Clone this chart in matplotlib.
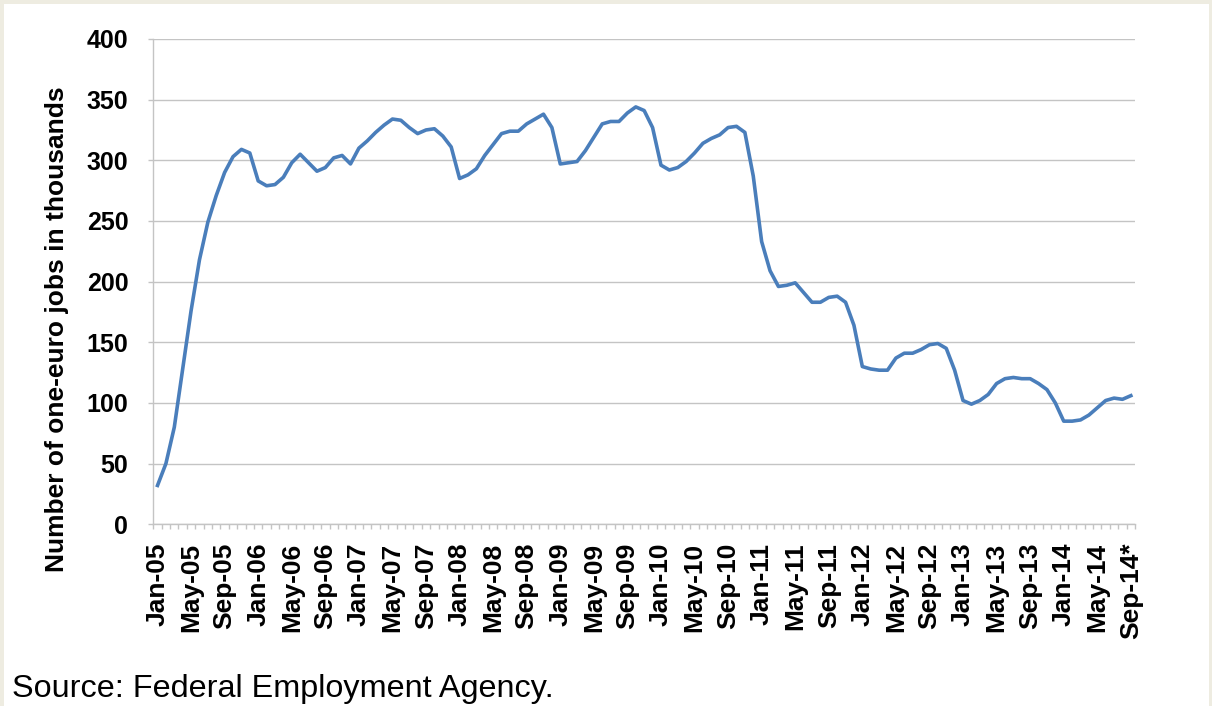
import numpy as np
import matplotlib
matplotlib.use("Agg")
import matplotlib.pyplot as plt
from matplotlib.patches import Rectangle

# monthly values, Jan-05 .. Sep-14 (thousands)
jobs = [32, 50, 80, 128, 176, 218, 249, 271, 290, 303, 309, 306,
        283, 279, 280, 286, 298, 305, 298, 291, 294, 302, 304, 297,
        310, 316, 323, 329, 334, 333, 327, 322, 325, 326, 320, 311,
        285, 288, 293, 304, 313, 322, 324, 324, 330, 334, 338, 327,
        297, 298, 299, 308, 319, 330, 332, 332, 339, 344, 341, 327,
        296, 292, 294, 299, 306, 314, 318, 321, 327, 328, 323, 287,
        233, 209, 196, 197, 199, 191, 183, 183, 187, 188, 183, 164,
        130, 128, 127, 127, 137, 141, 141, 144, 148, 149, 145, 127,
        102, 99, 102, 107, 116, 120, 121, 120, 120, 116, 111, 100,
        85, 85, 86, 90, 96, 102, 104, 103, 106]

tick_labels = ["Jan-05", "May-05", "Sep-05", "Jan-06", "May-06", "Sep-06",
               "Jan-07", "May-07", "Sep-07", "Jan-08", "May-08", "Sep-08",
               "Jan-09", "May-09", "Sep-09", "Jan-10", "May-10", "Sep-10",
               "Jan-11", "May-11", "Sep-11", "Jan-12", "May-12", "Sep-12",
               "Jan-13", "May-13", "Sep-13", "Jan-14", "May-14", "Sep-14*"]

plt.rcParams['font.family'] = ['Liberation Sans', 'DejaVu Sans']

fig = plt.figure(figsize=(12.12, 7.06), dpi=100)
fig.patch.set_facecolor('#EEECE1')
fig.patches.append(Rectangle((4 / 1212, 0), 1205 / 1212, 702 / 706,
                             transform=fig.transFigure, facecolor='white',
                             edgecolor='none', zorder=-10))

ax = fig.add_axes([0.1265, 0.2574, 0.81, 0.6874])
ax.set_facecolor('none')

x = np.arange(len(jobs))
ax.plot(x, jobs, color='#4A7EBB', linewidth=2.6, solid_joinstyle='round', zorder=3)

grid_c = '#C4C4C4'
ax.set_ylim(0, 400)
ax.set_yticks(range(0, 401, 50))
ax.yaxis.grid(True, color=grid_c, linewidth=1)
ax.set_axisbelow(True)
ax.set_xlim(-0.5, len(jobs) - 0.5)

ax.set_xticks(x[::4])
ax.set_xticklabels(tick_labels, rotation=90, fontsize=19, fontweight='bold')
ax.set_xticks(np.arange(-0.5, len(jobs), 1), minor=True)
ax.tick_params(axis='x', which='major', length=0, pad=13.3)
ax.tick_params(axis='x', which='minor', length=3.6, color=grid_c, width=1)
ax.tick_params(axis='y', length=3.6, color=grid_c, width=1, pad=14.4, labelsize=18)
for t in ax.get_yticklabels():
    t.set_fontweight('bold')

for s in ['top', 'right']:
    ax.spines[s].set_visible(False)
for s in ['left', 'bottom']:
    ax.spines[s].set_color(grid_c)
    ax.spines[s].set_linewidth(1)

ax.set_ylabel('Number of one-euro jobs in thousands', fontsize=19, fontweight='bold')
ax.yaxis.set_label_coords(-0.086, 0.402)

fig.text(12 / 1212, 9 / 706, 'Source: Federal Employment Agency.', fontsize=23.3,
         va='baseline', ha='left')

fig.savefig('out.png', dpi=100, facecolor=fig.get_facecolor())
